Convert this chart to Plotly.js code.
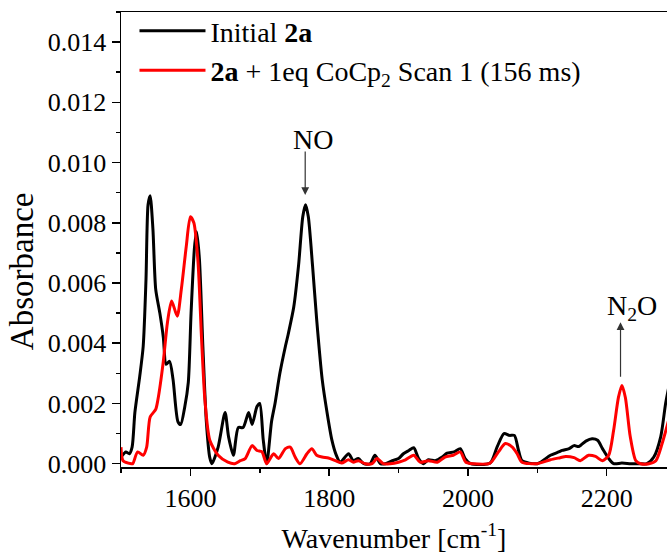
<!DOCTYPE html>
<html>
<head>
<meta charset="utf-8">
<script src="https://cdn.plot.ly/plotly-3.0.1.min.js"></script>
<style>html,body{margin:0;padding:0;background:#fff;}#chart{width:667px;height:554px;}</style>
</head>
<body>
<div id="chart"></div>
<script>
// Initial 2a (black)
const initialX = [1500,1507,1512,1516,1520,1527,1532,1536,1539,1542,1546,1550,1556,1561,1565,1570,1575,1582,1586,1592,1597,1601,1606,1609,1613,1618,1623,1628,1631,1640,1650,1655,1662,1669,1676,1684,1689,1696,1700,1705,1710,1717,1722,1729,1737,1741,1749,1756,1762,1766,1770,1776,1782,1790,1797,1804,1810,1816,1828,1835,1842,1850,1859,1866,1874,1881,1891,1900,1907,1915,1922,1929,1936,1943,1953,1963,1970,1980,1989,1996,2004,2032,2042,2052,2060,2067,2073,2078,2100,2119,2131,2136,2146,2153,2160,2170,2179,2187,2194,2203,2210,2222,2235,2247,2258,2268,2278,2285,2290];
const initialY = [0.00022,0.00039,0.00033,0.00055,0.0017,0.0029,0.0039,0.0061,0.0086,0.0089,0.0078,0.0058,0.0050,0.0042,0.0033,0.0034,0.0028,0.0014,0.0013,0.0019,0.0027,0.0050,0.0072,0.0077,0.0068,0.0039,0.0014,0.0002,0.0000,0.00055,0.0017,0.0009,0.00028,0.0012,0.0012,0.0017,0.0013,0.0019,0.0020,0.0008,0.0000,0.0014,0.0020,0.0030,0.0039,0.0043,0.0052,0.0066,0.0082,0.0086,0.0082,0.0066,0.0048,0.0028,0.0017,0.00078,0.0003,0.00005,0.00033,0.0001,0.00017,0.0,0.0,0.00028,0.0,0.0,0.0001,0.00017,0.00033,0.00044,0.00053,0.00017,0.0,0.00013,0.0001,0.00022,0.00035,0.00039,0.0005,0.00017,0.0,0.00002,0.00055,0.0010,0.00094,0.00094,0.00044,0.0001,0.0,0.00028,0.00039,0.00044,0.0005,0.0006,0.00057,0.00075,0.00083,0.00078,0.0005,0.00017,0.0,0.00002,0.0,0.0,0.0,0.00022,0.0009,0.002,0.0026];

// 2a + 1eq CoCp2 Scan 1 (red)
const scanX = [1500,1503,1515,1517,1524,1532,1537,1542,1550,1553,1561,1567,1573,1581,1587,1594,1600,1605,1611,1616,1621,1628,1640,1654,1664,1672,1679,1689,1696,1703,1710,1720,1727,1737,1744,1751,1758,1768,1775,1782,1790,1799,1809,1818,1828,1835,1842,1852,1862,1869,1878,1888,1900,1910,1922,1931,1943,1956,1967,1979,1989,1997,2008,2032,2044,2054,2064,2071,2078,2100,2119,2133,2141,2153,2162,2174,2184,2194,2203,2210,2217,2222,2227,2234,2242,2249,2261,2271,2280,2290];
const scanY = [0.00055,0.0001,0.0,0.0,0.00039,0.00028,0.00055,0.00155,0.0018,0.0021,0.0034,0.0047,0.0054,0.0049,0.0058,0.0072,0.0082,0.0080,0.0067,0.0042,0.0021,0.00078,0.00028,0.00005,0.0,0.0001,0.00017,0.0006,0.00044,0.0004,0.0,0.00033,0.00017,0.0005,0.00055,0.00022,0.0,0.00033,0.0005,0.00028,0.00022,0.00019,0.0001,0.00002,0.00013,0.00005,0.0001,0.0,0.0,0.00017,0.0,0.0,0.00005,0.00013,0.00028,0.00005,0.0001,0.00005,0.00022,0.00028,0.00039,0.00005,0.0,0.00002,0.00039,0.00067,0.00055,0.00033,0.00005,0.0,0.00013,0.0002,0.00024,0.0002,0.0001,0.00028,0.00024,0.0001,0.00028,0.0011,0.0022,0.0026,0.0022,0.0009,0.0001,0.0,0.0,0.0001,0.00067,0.0015];

const seriesNames = ["Initial <b>2a</b>", "<b>2a</b> + 1eq CoCp<sub>2</sub> Scan 1 (156 ms)"];
const yTickVals = [0,0.002,0.004,0.006,0.008,0.010,0.012,0.014];
const xTickVals = [1600,1800,2000,2200];

const serif = "Liberation Serif";

const traces = [
  {x: initialX, y: initialY, name: seriesNames[0], type: "scatter", mode: "lines",
   line: {color: "#000000", width: 3, shape: "spline", smoothing: 0.7}},
  {x: scanX, y: scanY, name: seriesNames[1], type: "scatter", mode: "lines",
   line: {color: "#ff0000", width: 3, shape: "spline", smoothing: 0.7}}
];

const layout = {
  width: 667, height: 554,
  margin: {l: 121, r: 0, t: 12, b: 87},
  paper_bgcolor: "#fff", plot_bgcolor: "#fff",
  font: {family: serif, color: "#000", size: 26},
  showlegend: true,
  legend: {x: 0.0247, y: 1.013, xanchor: "left", yanchor: "top", bgcolor: "rgba(0,0,0,0)",
           font: {family: serif, size: 28, color: "#000"}, itemwidth: 66, tracegroupgap: 0},
  xaxis: {
    range: [1500, 2287], showgrid: false, zeroline: false,
    showline: true, linecolor: "#000", linewidth: 1.5, mirror: true,
    tickmode: "array", tickvals: xTickVals, ticks: "outside", ticklen: 7, tickwidth: 1.5, tickcolor: "#000",
    minor: {dtick: 100, tick0: 1500, ticks: "outside", ticklen: 4, tickwidth: 1.5, tickcolor: "#000", showgrid: false},
    tickfont: {family: serif, size: 26, color: "#000"},
    title: {text: "Wavenumber [cm<sup>-1</sup>]", font: {family: serif, size: 28, color: "#000"}, standoff: 20}
  },
  yaxis: {
    range: [-0.00011, 0.015], showgrid: false, zeroline: false,
    showline: true, linecolor: "#000", linewidth: 1.5,
    tickmode: "array", tickvals: yTickVals, tickformat: ".3f", ticks: "outside", ticklen: 8, tickwidth: 1.5, tickcolor: "#000",
    minor: {dtick: 0.001, tick0: 0, ticks: "outside", ticklen: 4, tickwidth: 1.5, tickcolor: "#000", showgrid: false},
    tickfont: {family: serif, size: 26, color: "#000"}
  },
  annotations: [
    {x: -0.1813, y: 0.4304, xref: "paper", yref: "paper", text: "Absorbance", textangle: -90,
     showarrow: false, xanchor: "center", yanchor: "middle", font: {family: serif, size: 33, color: "#000"}},
    {x: 1765.5, y: 0.00892, xref: "x", yref: "y", text: "", showarrow: true,
     ax: 0, ay: -45, arrowhead: 2, arrowsize: 1.3, arrowwidth: 1.2, arrowcolor: "#333"},
    {x: 1777, y: 0.01075, xref: "x", yref: "y", text: "NO", showarrow: false,
     font: {family: serif, size: 28, color: "#000"}},
    {x: 2220, y: 0.0047, xref: "x", yref: "y", text: "", showarrow: true,
     ax: 0, ay: 56, arrowhead: 2, arrowsize: 1.3, arrowwidth: 1.2, arrowcolor: "#333"},
    {x: 2237, y: 0.0052, xref: "x", yref: "y", text: "N<sub>2</sub>O", showarrow: false,
     font: {family: serif, size: 28, color: "#000"}}
  ]
};

Plotly.newPlot("chart", traces, layout, {displayModeBar: false, staticPlot: true});
</script>
</body>
</html>
